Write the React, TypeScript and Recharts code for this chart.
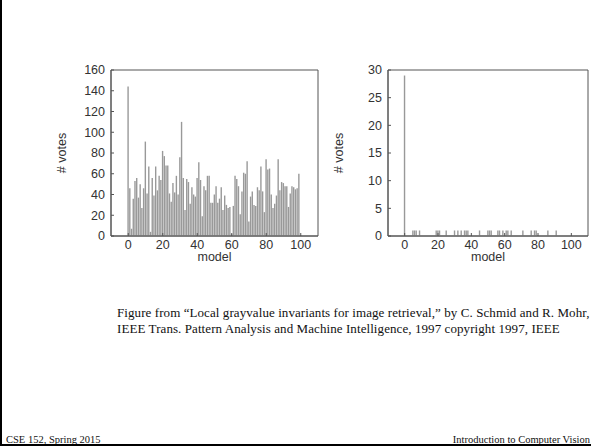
import React from "react";
import { BarChart, Bar, XAxis, YAxis, ReferenceArea } from "recharts";

// Left histogram: votes per model (models 0..100)
const leftVotes: number[] = [
  144, 46, 7, 36, 53, 56, 37, 50, 27, 46,
  91, 41, 67, 4, 56, 39, 67, 44, 58, 54,
  82, 77, 68, 68, 41, 33, 51, 42, 58, 40,
  76, 110, 56, 25, 55, 52, 31, 47, 40, 38,
  56, 71, 54, 19, 48, 44, 58, 58, 32, 32,
  40, 48, 32, 36, 47, 25, 39, 30, 27, 28,
  2, 29, 58, 55, 48, 21, 43, 61, 60, 72,
  14, 38, 43, 30, 29, 47, 44, 67, 43, 23,
  74, 64, 65, 40, 27, 31, 39, 74, 44, 52,
  51, 48, 48, 28, 41, 48, 47, 45, 46, 60,
  1,
];

// Right histogram: non-zero models and their votes
const rightModels: number[] = [0, 5, 6, 7, 9, 19, 20, 21, 25, 30, 32, 34, 36, 37, 38, 45, 50, 51, 52, 56, 57, 59, 61, 62, 64, 71, 76, 78, 79, 86, 91];
const rightVotes: number[] = [29, 1, 1, 1, 1, 1, 1, 1, 1, 1, 1, 1, 1, 1, 1, 1, 1, 1, 1, 1, 1, 1, 1, 1, 1, 1, 1, 1, 1, 1, 1];

const xTicks: number[] = [0, 20, 40, 60, 80, 100];
const leftYTicks: number[] = [0, 20, 40, 60, 80, 100, 120, 140, 160];
const rightYTicks: number[] = [0, 5, 10, 15, 20, 25, 30];

const leftData = leftVotes.map((v, i) => ({ m: i, v }));
const rightData = rightModels.map((m, i) => ({ m, v: rightVotes[i] }));

const AXIS = "#555";
const TXT = "#333";
const SANS = "'Liberation Sans', Arial, Helvetica, sans-serif";
const SERIF = "'Liberation Serif', 'Times New Roman', serif";

function Hist({ data, yMax, yTicks, width }: { data: { m: number; v: number }[]; yMax: number; yTicks: number[]; width: number }) {
  return (
    <BarChart width={width} height={225} data={data} margin={{ top: 15, right: 2, left: 0, bottom: 0 }} barGap={0} barCategoryGap={0}>
      <ReferenceArea x1={-10} x2={110} y1={0} y2={yMax} fill="none" stroke={AXIS} strokeWidth={1} ifOverflow="visible" />
      <XAxis
        dataKey="m"
        type="number"
        domain={[-10, 110]}
        ticks={xTicks}
        allowDataOverflow
        height={44}
        tickSize={-3}
        tickMargin={7}
        stroke={AXIS}
        tick={{ fill: TXT, fontSize: 12.5, fontFamily: SANS }}
        label={{ value: "model", position: "insideBottom", offset: 19, fill: TXT, fontSize: 12.5, fontFamily: SANS }}
      />
      <XAxis xAxisId="top" orientation="top" dataKey="m" type="number" domain={[-10, 110]} ticks={xTicks} allowDataOverflow height={0} tickSize={-3} tick={false} stroke={AXIS} />
      <YAxis
        type="number"
        domain={[0, yMax]}
        ticks={yTicks}
        allowDataOverflow
        width={71}
        tickSize={-3}
        tickMargin={9}
        stroke={AXIS}
        tick={{ fill: TXT, fontSize: 12.5, fontFamily: SANS }}
        label={{ value: "# votes", angle: -90, position: "insideLeft", offset: 22, fill: TXT, fontSize: 12.5, fontFamily: SANS, style: { textAnchor: "middle" } }}
      />
      <YAxis yAxisId="right" orientation="right" type="number" domain={[0, yMax]} ticks={yTicks} allowDataOverflow width={0} tickSize={-3} tick={false} stroke={AXIS} />
      <Bar dataKey="v" fill="#999" barSize={1.4} isAnimationActive={false} />
    </BarChart>
  );
}

export default function App() {
  return (
    <div style={{ position: "absolute", left: 0, top: 0, width: 591, height: 446, overflow: "hidden", background: "#fff", fontFamily: SERIF }}>
      <div style={{ position: "absolute", left: 40, top: 55 }}>
        <Hist data={leftData} yMax={160} yTicks={leftYTicks} width={280} />
      </div>
      <div style={{ position: "absolute", left: 317, top: 55 }}>
        <Hist data={rightData} yMax={30} yTicks={rightYTicks} width={273} />
      </div>
      <div style={{ position: "absolute", left: 117, top: 305, fontSize: 13, letterSpacing: "0.08px", lineHeight: "16px", color: "#111", whiteSpace: "nowrap" }}>
        Figure from “Local grayvalue invariants for image retrieval,” by C. Schmid and R. Mohr,
        <br />
        IEEE Trans. Pattern Analysis and Machine Intelligence, 1997 copyright 1997, IEEE
      </div>
      <div style={{ position: "absolute", left: 6, top: 434, fontSize: 10.5, lineHeight: "12px", color: "#111", whiteSpace: "nowrap" }}>
        CSE 152, Spring 2015
      </div>
      <div style={{ position: "absolute", right: 1, top: 434, fontSize: 10.5, lineHeight: "12px", color: "#111", whiteSpace: "nowrap" }}>
        Introduction to Computer Vision
      </div>
      <div style={{ position: "absolute", left: 0, top: 0, width: 2, height: 446, background: "#000" }} />
      <div style={{ position: "absolute", left: 0, top: 444, width: 591, height: 2, background: "#000" }} />
    </div>
  );
}
